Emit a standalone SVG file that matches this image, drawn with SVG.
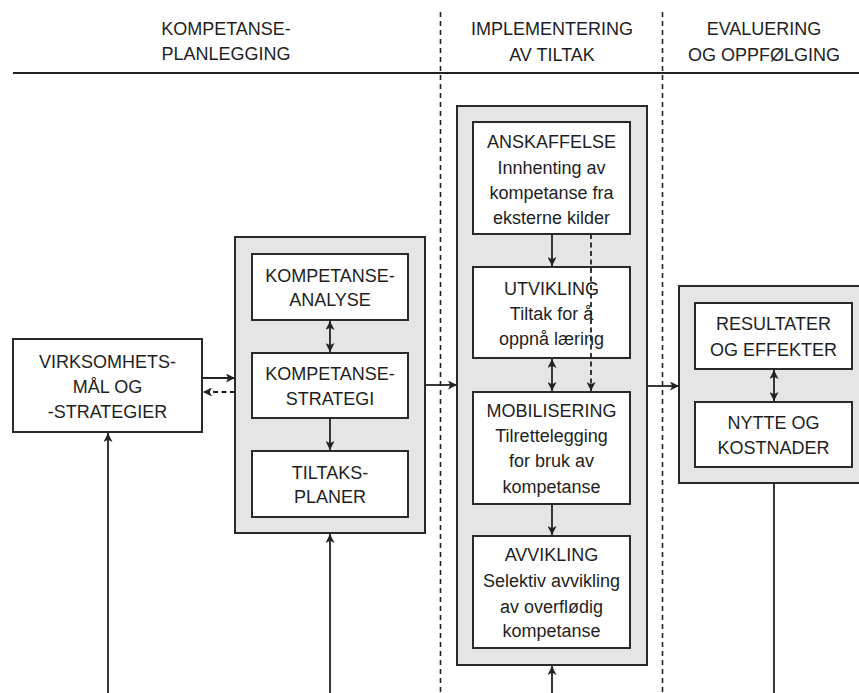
<svg xmlns="http://www.w3.org/2000/svg" width="859" height="693" viewBox="0 0 859 693">
<style>
text{font-family:"Liberation Sans",Arial,sans-serif;font-size:18px;fill:#1e1e1e;text-anchor:middle}
.outer{fill:#e5e5e5;stroke:#2a2a2a;stroke-width:2}
.box{fill:#fff;stroke:#2a2a2a;stroke-width:2}
.ln{stroke:#222;stroke-width:1.8;fill:none}
.dash{stroke:#222;stroke-width:1.8;fill:none;stroke-dasharray:5 3.5}
.sep{stroke:#222;stroke-width:1.6;fill:none;stroke-dasharray:5 4}
</style>
<defs>
<marker id="ah" viewBox="0 0 10 10" refX="10" refY="5" markerWidth="10" markerHeight="9" markerUnits="userSpaceOnUse" orient="auto-start-reverse">
<path d="M0,0 L10,5 L0,10 L2.5,5 z" fill="#222"/>
</marker>
</defs>
<rect width="859" height="693" fill="#fff"/>
<g id="header">
<line x1="13" y1="73" x2="859" y2="73" stroke="#222" stroke-width="2"/>
<line class="sep" x1="440.5" y1="12" x2="440.5" y2="693"/>
<line class="sep" x1="662.5" y1="12" x2="662.5" y2="693"/>
<text x="226" y="35">KOMPETANSE-</text>
<text x="226" y="60">PLANLEGGING</text>
<text x="552" y="35">IMPLEMENTERING</text>
<text x="552" y="61">AV TILTAK</text>
<text x="764" y="35">EVALUERING</text>
<text x="764" y="61">OG OPPFØLGING</text>
</g>
<g id="planning-group"><rect class="outer" x="235" y="237" width="190" height="296"/></g>
<g id="implementation-group"><rect class="outer" x="457" y="106" width="190" height="559"/></g>
<g id="evaluation-group"><rect class="outer" x="679" y="286" width="185" height="197"/></g>
<g id="virksomhet"><rect class="box" x="13" y="339" width="189" height="93"/>
<text x="107.5" y="368">VIRKSOMHETS-</text><text x="107.5" y="393">MÅL OG</text><text x="107.5" y="418">-STRATEGIER</text></g>
<g id="analyse"><rect class="box" x="252" y="254" width="156" height="66"/>
<text x="330" y="282">KOMPETANSE-</text><text x="330" y="306">ANALYSE</text></g>
<g id="strategi"><rect class="box" x="252" y="353" width="156" height="65"/>
<text x="330" y="380">KOMPETANSE-</text><text x="330" y="405">STRATEGI</text></g>
<g id="tiltaksplaner"><rect class="box" x="252" y="451" width="156" height="66"/>
<text x="330" y="479">TILTAKS-</text><text x="330" y="503">PLANER</text></g>
<g id="anskaffelse"><rect class="box" x="473" y="122" width="157" height="112"/>
<text x="551.5" y="148">ANSKAFFELSE</text><text x="551.5" y="173.5">Innhenting av</text><text x="551.5" y="199">kompetanse fra</text><text x="551.5" y="224">eksterne kilder</text></g>
<g id="utvikling"><rect class="box" x="473" y="267" width="157" height="91"/>
<text x="551.5" y="295">UTVIKLING</text><text x="551.5" y="320">Tiltak for å</text><text x="551.5" y="345">oppnå læring</text></g>
<g id="mobilisering"><rect class="box" x="473" y="392" width="157" height="112"/>
<text x="551.5" y="417">MOBILISERING</text><text x="551.5" y="442">Tilrettelegging</text><text x="551.5" y="467">for bruk av</text><text x="551.5" y="493">kompetanse</text></g>
<g id="avvikling"><rect class="box" x="473" y="536" width="157" height="112"/>
<text x="551.5" y="561">AVVIKLING</text><text x="551.5" y="587">Selektiv avvikling</text><text x="551.5" y="613">av overflødig</text><text x="551.5" y="637">kompetanse</text></g>
<g id="resultater"><rect class="box" x="695" y="303" width="157" height="66"/>
<text x="773.5" y="330">RESULTATER</text><text x="773.5" y="356">OG EFFEKTER</text></g>
<g id="nytte"><rect class="box" x="695" y="402" width="157" height="65"/>
<text x="773.5" y="429">NYTTE OG</text><text x="773.5" y="454">KOSTNADER</text></g>
<g id="connectors">
<line class="ln" x1="202" y1="378" x2="235" y2="378" marker-end="url(#ah)"/>
<line class="dash" x1="235" y1="392" x2="203" y2="392" marker-end="url(#ah)"/>
<line class="ln" x1="425" y1="385" x2="457" y2="385" marker-end="url(#ah)"/>
<line class="ln" x1="647" y1="386" x2="679" y2="386" marker-end="url(#ah)"/>
<line class="ln" x1="330" y1="321" x2="330" y2="352" marker-start="url(#ah)" marker-end="url(#ah)"/>
<line class="ln" x1="330" y1="418" x2="330" y2="450" marker-end="url(#ah)"/>
<line class="ln" x1="552" y1="234" x2="552" y2="266" marker-end="url(#ah)"/>
<line class="dash" x1="591" y1="234" x2="591" y2="391" marker-end="url(#ah)"/>
<line class="ln" x1="552" y1="359" x2="552" y2="391" marker-start="url(#ah)" marker-end="url(#ah)"/>
<line class="ln" x1="552" y1="504" x2="552" y2="535" marker-end="url(#ah)"/>
<line class="ln" x1="774" y1="370" x2="774" y2="401" marker-start="url(#ah)" marker-end="url(#ah)"/>
<line class="ln" x1="108" y1="693" x2="108" y2="433" marker-end="url(#ah)"/>
<line class="ln" x1="330" y1="693" x2="330" y2="534" marker-end="url(#ah)"/>
<line class="ln" x1="552" y1="693" x2="552" y2="666" marker-end="url(#ah)"/>
<line class="ln" x1="774" y1="484" x2="774" y2="693"/>
</g>
</svg>
